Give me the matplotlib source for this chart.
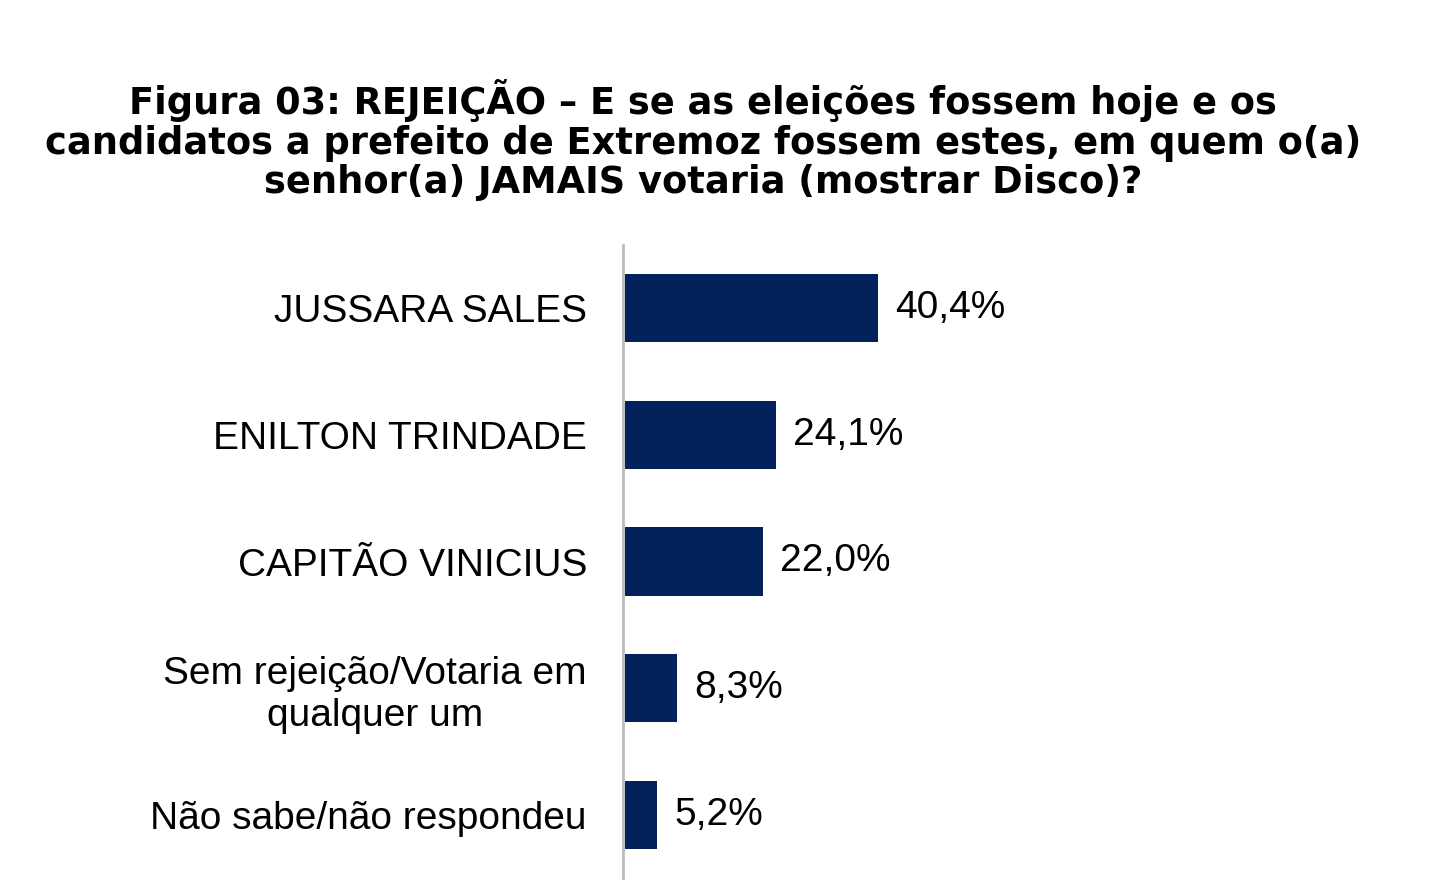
import matplotlib
matplotlib.use("Agg")
import matplotlib.pyplot as plt

categories = ["JUSSARA SALES", "ENILTON TRINDADE", "CAPITÃO VINICIUS",
              "Sem rejeição/Votaria em\nqualquer um", "Não sabe/não respondeu"]
values = [40.4, 24.1, 22.0, 8.3, 5.2]
value_labels = ["40,4%", "24,1%", "22,0%", "8,3%", "5,2%"]

fig = plt.figure(figsize=(14.32, 8.94), dpi=100)
fig.text(0.491, 0.912,
         "Figura 03: REJEIÇÃO – E se as eleições fossem hoje e os\n"
         "candidatos a prefeito de Extremoz fossem estes, em quem o(a)\n"
         "senhor(a) JAMAIS votaria (mostrar Disco)?",
         ha="center", va="top", fontsize=26.5, fontweight="bold",
         family="DejaVu Sans", linespacing=1.1)

ax = fig.add_axes([623/1432, 16/894, 1 - 623/1432, (878-245)/894])
pos = list(range(len(categories)))[::-1]
ax.barh(pos, values, height=0.54, color="#03215B", left=0.3)
for p, v, t in zip(pos, values, value_labels):
    ax.text(v + 3.0, p, t, va="center", ha="left", fontsize=28,
            family="Liberation Sans")
ax.set_xlim(0, 129)
ax.set_ylim(-0.5, 4.5)
ax.set_yticks(pos)
ax.set_yticklabels(categories, fontsize=28, family="Liberation Sans")
for lbl in ax.get_yticklabels():
    lbl.set_multialignment("center")
ax.tick_params(axis="y", length=0, pad=26)
ax.set_xticks([])
for s in ["top", "right", "bottom"]:
    ax.spines[s].set_visible(False)
ax.spines["left"].set_color("#BBBBBB")
ax.spines["left"].set_linewidth(2)
fig.savefig("out.png", dpi=100)
